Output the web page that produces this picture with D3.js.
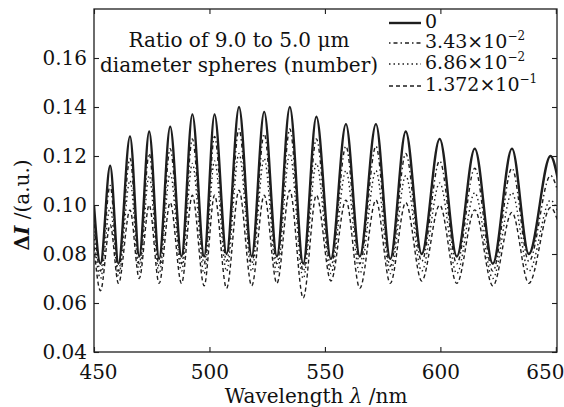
<!DOCTYPE html>
<html>
<head>
<meta charset="utf-8">
<script src="https://cdn.jsdelivr.net/npm/d3@7"></script>
<style>
  body { margin: 0; background: #fff; }
  svg { display: block; }
</style>
</head>
<body>
<div id="chart"></div>
<script>
//data to display (troughs and peaks of each curve)
const wavelength = [450, 452.8, 457.0, 460.6, 465.6, 469.6, 473.9, 478.2, 483.0, 487.9, 492.6, 497.7,
    502.2, 507.4, 512.8, 518.3, 523.7, 529.2, 534.8, 540.6, 546.3, 552.6, 559.1, 565.1,
    572.1, 578.3, 585.0, 591.9, 599.7, 607.1, 614.9, 622.7, 631.0, 638.3, 647.7, 651];

const ratio0 = [0.100, 0.076, 0.116, 0.076, 0.128, 0.079, 0.130, 0.078, 0.132, 0.079, 0.137, 0.079,
    0.137, 0.080, 0.140, 0.079, 0.138, 0.079, 0.140, 0.076, 0.136, 0.078, 0.133, 0.079,
    0.133, 0.078, 0.130, 0.080, 0.127, 0.079, 0.123, 0.076, 0.123, 0.080, 0.120, 0.110];
const ratio1 = [0.094, 0.073, 0.108, 0.073, 0.119, 0.076, 0.121, 0.075, 0.123, 0.076, 0.127, 0.076,
    0.128, 0.077, 0.131, 0.076, 0.129, 0.076, 0.131, 0.073, 0.127, 0.075, 0.124, 0.076,
    0.124, 0.075, 0.121, 0.077, 0.118, 0.076, 0.115, 0.073, 0.115, 0.077, 0.112, 0.105];
const ratio2 = [0.088, 0.070, 0.099, 0.071, 0.110, 0.073, 0.112, 0.072, 0.113, 0.073, 0.117, 0.072,
    0.118, 0.073, 0.121, 0.073, 0.119, 0.072, 0.121, 0.070, 0.117, 0.072, 0.114, 0.072,
    0.114, 0.072, 0.112, 0.073, 0.109, 0.072, 0.105, 0.070, 0.105, 0.073, 0.102, 0.097];
const ratio3 = [0.083, 0.065, 0.092, 0.068, 0.098, 0.070, 0.100, 0.068, 0.101, 0.068, 0.104, 0.067,
    0.104, 0.066, 0.106, 0.067, 0.104, 0.068, 0.106, 0.062, 0.104, 0.069, 0.102, 0.066,
    0.102, 0.068, 0.101, 0.069, 0.100, 0.068, 0.098, 0.067, 0.097, 0.068, 0.099, 0.093];

//legend labels: mantissa and exponent
const legendBase = ['0', '3.43\u00d710', '6.86\u00d710', '1.372\u00d710'];
const legendExp = ['', '\u22122', '\u22122', '\u22121'];

//tick labels
const xTicks = [450, 500, 550, 600, 650];
const yTicks = [0.04, 0.06, 0.08, 0.10, 0.12, 0.14, 0.16];

//Measures
const width = 564;
const height = 407;
const plotLeft = 94;
const plotRight = 557;
const plotTop = 9;
const plotBottom = 352;
const tickLength = 5;

//Colors and styles
const inkColor = '#1e1e1e';
const fontFamily = '"DejaVu Serif", serif';
const seriesStyles = [
    {dash: null, width: 2.4},
    {dash: '1.5,3,4,3', width: 1.4},
    {dash: '1.5,3', width: 1.4},
    {dash: '4,3', width: 1.4}
];

//Scales
const x = d3.scaleLinear().domain([450, 650.5]).range([plotLeft, plotRight]);
const y = d3.scaleLinear().domain([0.04, 0.18]).range([plotBottom, plotTop]);

//Main SVG
const svg = d3.select('#chart').append('svg')
    .attr('width', width)
    .attr('height', height)
    .style('font-family', fontFamily);

drawChart(svg);

//Level 0
function drawChart(svg) {
    drawCurves(svg);
    drawFrame(svg);
    drawLabels(svg);
    drawLegend(svg);
}

//Level 1; the four spectra
function drawCurves(svg) {
    svg.append('clipPath').attr('id', 'plotClip')
        .append('rect')
        .attr('x', plotLeft)
        .attr('y', plotTop)
        .attr('width', plotRight - plotLeft)
        .attr('height', plotBottom - plotTop);

    const series = [ratio0, ratio1, ratio2, ratio3];
    const line = d3.line()
        .x((d, i) => x(wavelength[i]))
        .y(d => y(d))
        .curve(d3.curveMonotoneX);

    const g = svg.append('g').attr('clip-path', 'url(#plotClip)');
    //draw dashed ones first, solid on top
    for (let s = series.length - 1; s >= 0; s--) {
        g.append('path')
            .attr('d', line(series[s]))
            .attr('fill', 'none')
            .attr('stroke', inkColor)
            .attr('stroke-width', seriesStyles[s].width)
            .attr('stroke-dasharray', seriesStyles[s].dash)
            .attr('stroke-linejoin', 'round');
    }
}

//Level 1; box with inward ticks on all four sides
function drawFrame(svg) {
    const bottomAxis = d3.axisBottom(x).tickValues(xTicks).tickSizeInner(-tickLength).tickSizeOuter(0).tickPadding(13);
    const topAxis = d3.axisTop(x).tickValues(xTicks).tickSizeInner(-tickLength).tickSizeOuter(0).tickFormat('');
    const leftAxis = d3.axisLeft(y).tickValues(yTicks).tickSizeInner(-tickLength).tickSizeOuter(0).tickPadding(7)
        .tickFormat(d3.format('.2f'));
    const rightAxis = d3.axisRight(y).tickValues(yTicks).tickSizeInner(-tickLength).tickSizeOuter(0).tickFormat('');

    const bottom = svg.append('g').attr('transform', `translate(0,${plotBottom})`).call(bottomAxis);
    svg.append('g').attr('transform', `translate(0,${plotTop})`).call(topAxis);
    svg.append('g').attr('transform', `translate(${plotLeft},0)`).call(leftAxis);
    svg.append('g').attr('transform', `translate(${plotRight},0)`).call(rightAxis);

    //end labels sit a little inside the box
    bottom.selectAll('.tick text')
        .attr('dx', d => d === 450 ? 4 : (d === 650 ? -11 : 0));

    svg.selectAll('.domain').remove();
    svg.selectAll('.tick line').attr('stroke', inkColor).attr('stroke-width', 1.1);
    svg.selectAll('.tick text')
        .attr('fill', '#111')
        .style('font-family', fontFamily)
        .style('font-size', '20px');

    svg.append('rect')
        .attr('x', plotLeft)
        .attr('y', plotTop)
        .attr('width', plotRight - plotLeft)
        .attr('height', plotBottom - plotTop)
        .attr('fill', 'none')
        .attr('stroke', inkColor)
        .attr('stroke-width', 1.3);
}

//Level 1; axis titles and annotation
function drawLabels(svg) {
    const xTitle = svg.append('text')
        .attr('x', 316)
        .attr('y', 403)
        .attr('text-anchor', 'middle')
        .attr('fill', '#111')
        .style('font-size', '20px');
    xTitle.append('tspan').text('Wavelength ');
    xTitle.append('tspan').attr('font-style', 'italic').text('\u03bb');
    xTitle.append('tspan').text(' /nm');

    const yTitle = svg.append('text')
        .attr('transform', 'translate(29,205) rotate(-90)')
        .attr('text-anchor', 'middle')
        .attr('fill', '#111')
        .style('font-size', '20px');
    yTitle.append('tspan').attr('font-weight', 'bold').text('\u0394');
    yTitle.append('tspan').attr('font-weight', 'bold').attr('font-style', 'italic').text('I');
    yTitle.append('tspan').text(' /(a.u.)');

    svg.append('text')
        .attr('x', 239)
        .attr('y', 47)
        .attr('text-anchor', 'middle')
        .attr('fill', '#111')
        .style('font-size', '20px')
        .text('Ratio of 9.0 to 5.0 \u03bcm');
    svg.append('text')
        .attr('x', 239)
        .attr('y', 72)
        .attr('text-anchor', 'middle')
        .attr('fill', '#111')
        .style('font-size', '20px')
        .text('diameter spheres (number)');
}

//Level 1; legend in the upper right
function drawLegend(svg) {
    const rowY = [23, 43, 64, 86];
    for (let i = 0; i < legendBase.length; i++) {
        svg.append('line')
            .attr('x1', 389)
            .attr('x2', 421)
            .attr('y1', rowY[i])
            .attr('y2', rowY[i])
            .attr('stroke', inkColor)
            .attr('stroke-width', seriesStyles[i].width)
            .attr('stroke-dasharray', seriesStyles[i].dash);
        const t = svg.append('text')
            .attr('x', 425)
            .attr('y', rowY[i] + 5)
            .attr('fill', '#111')
            .style('font-size', '19px');
        t.append('tspan').text(legendBase[i]);
        if (legendExp[i]) {
            t.append('tspan')
                .attr('dy', -8)
                .style('font-size', '12px')
                .text(legendExp[i]);
        }
    }
}
</script>
</body>
</html>
